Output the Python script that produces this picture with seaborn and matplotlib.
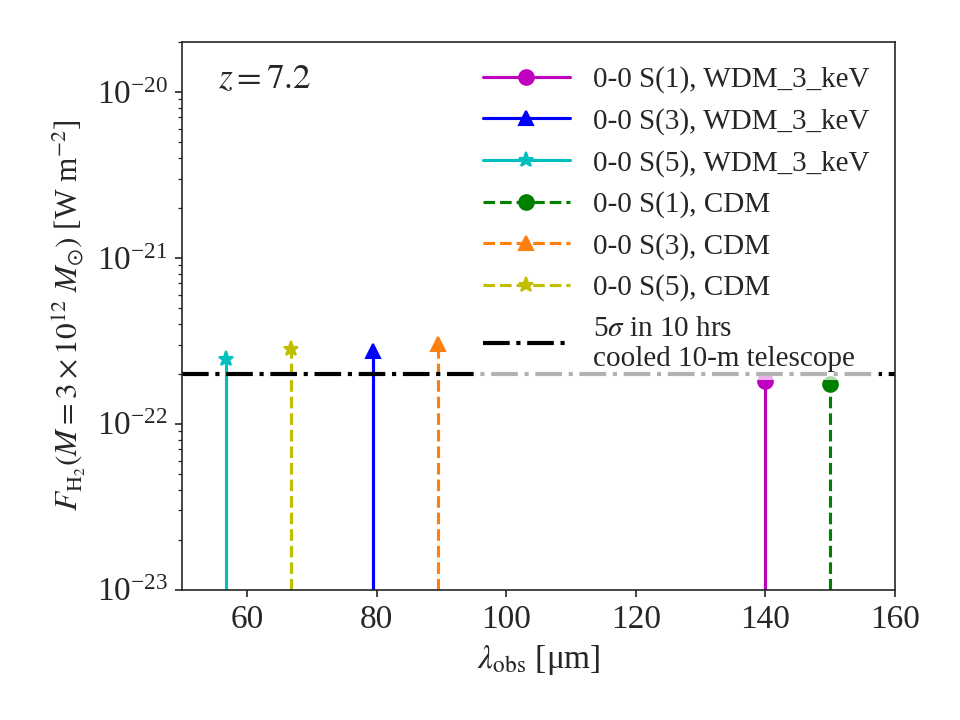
import matplotlib
matplotlib.use("Agg")
import matplotlib.pyplot as plt
import matplotlib.ticker as mticker
import seaborn as sns
import pandas as pd

sns.set_style("ticks")
plt.rcParams['font.family'] = ['Liberation Serif', 'DejaVu Serif']
plt.rcParams['mathtext.fontset'] = 'stix'

# line positions [um] and fluxes [W m^-2]
lines = ["0-0 S(1)", "0-0 S(3)", "0-0 S(5)"]
wdm_wave = [140.0, 79.5, 56.8]
wdm_flux = [1.82e-22, 2.75e-22, 2.47e-22]
cdm_wave = [150.0, 89.5, 66.8]
cdm_flux = [1.74e-22, 3.03e-22, 2.80e-22]
wdm_colors = ["m", "b", "c"]
cdm_colors = ["g", "C1", "y"]
markers = ["o", "^", "*"]
limit_flux = 2e-22
ybottom = 1e-23
yticks = [1e-23, 1e-22, 1e-21, 1e-20]

df = pd.concat([
    pd.DataFrame({"line": lines, "wave": wdm_wave, "flux": wdm_flux,
                  "model": "WDM_3_keV", "color": wdm_colors, "marker": markers, "ls": "-"}),
    pd.DataFrame({"line": lines, "wave": cdm_wave, "flux": cdm_flux,
                  "model": "CDM", "color": cdm_colors, "marker": markers, "ls": "--"}),
])

fig = plt.figure(figsize=(6.4, 4.8), dpi=150)
ax = fig.add_axes([0.19, 0.181, 0.742, 0.761])

for _, r in df.iterrows():
    ax.plot([r["wave"], r["wave"]], [ybottom, r["flux"]], ls=r["ls"], color=r["color"],
            lw=1.5, marker=r["marker"], markevery=[1], ms=7 if r["marker"] != "*" else 7.5,
            label="{}, {}".format(r["line"], r["model"]))

ax.axhline(limit_flux, color="k", ls="-.", lw=2,
           label="5$\\sigma$ in 10 hrs\ncooled 10-m telescope")

ax.set_yscale("log")
ax.set_xlim(50, 160)
ax.set_ylim(1e-23, 2e-20)
ax.set_yticks(yticks)
ax.yaxis.set_major_formatter(mticker.LogFormatterSciNotation())
ax.yaxis.set_minor_formatter(mticker.NullFormatter())
ax.tick_params(labelsize=16)
ax.set_xlabel(r"$\lambda_{\rm obs}$ [μm]", fontsize=16)
ax.set_ylabel(r"$F_{\rm H_2}(M=3\times10^{12}\ M_{\odot})$ [W m$^{-2}$]", fontsize=15)
ax.text(0.05, 0.93, r"$z=7.2$", transform=ax.transAxes, fontsize=17, va="center")

leg = ax.legend(loc="upper right", fontsize=14, framealpha=0.7, numpoints=1,
                handlelength=3.0, borderaxespad=0.55, borderpad=0.3, labelspacing=0.5)
leg.get_frame().set_edgecolor("none")
leg.set_zorder(5)

fig.savefig("out.png", dpi=150)
